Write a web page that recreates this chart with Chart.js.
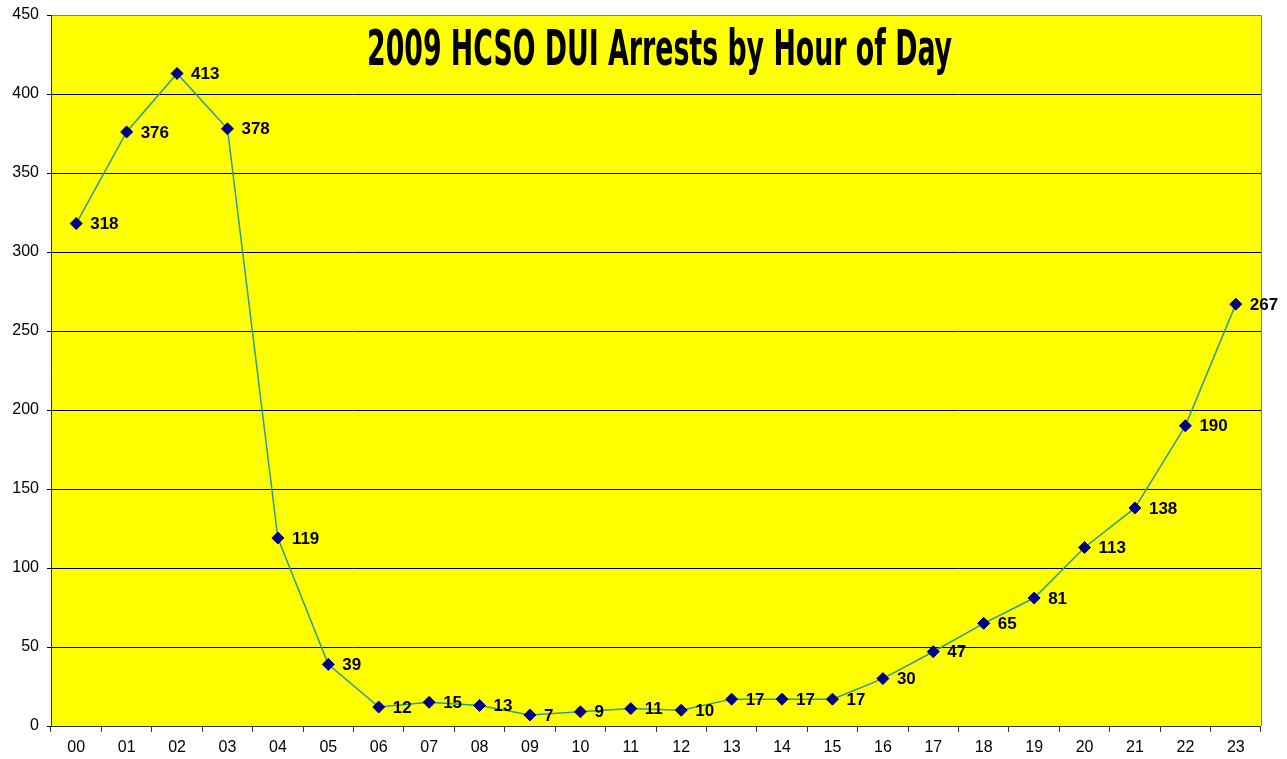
<!DOCTYPE html>
<html>
<head>
<meta charset="utf-8">
<script src="https://cdn.jsdelivr.net/npm/chart.js@4/dist/chart.umd.min.js"></script>
<style>
  html, body { margin: 0; padding: 0; background: #fff; }
  #wrap { width: 1287px; height: 759px; }
</style>
</head>
<body>
<div id="wrap"><canvas id="duiChart" width="1287" height="759"></canvas></div>
<script>
const hours = ["00","01","02","03","04","05","06","07","08","09","10","11",
               "12","13","14","15","16","17","18","19","20","21","22","23"];
const arrests = [318, 376, 413, 378, 119, 39, 12, 15, 13, 7, 9, 11,
                 10, 17, 17, 17, 30, 47, 65, 81, 113, 138, 190, 267];
const chartTitle = "2009 HCSO DUI Arrests by Hour of Day";

// yellow plot area + frame
const plotArea = {
  id: "plotArea",
  beforeDraw(chart) {
    const { ctx, chartArea: a } = chart;
    ctx.save();
    ctx.fillStyle = "#ffff00";
    ctx.fillRect(a.left, a.top, a.right - a.left, a.bottom - a.top);
    ctx.restore();
  },
  afterDatasetsDraw(chart) {
    const { ctx, chartArea: a } = chart;
    ctx.save();
    ctx.lineWidth = 1;
    ctx.strokeStyle = "#808080";
    ctx.beginPath();
    ctx.moveTo(a.left, a.top + 0.5);
    ctx.lineTo(a.right + 0.5, a.top + 0.5);
    ctx.lineTo(a.right + 0.5, a.bottom);
    ctx.stroke();
    ctx.strokeStyle = "#333333";
    ctx.beginPath();
    ctx.moveTo(a.left + 0.5, a.top);
    ctx.lineTo(a.left + 0.5, a.bottom + 0.5);
    ctx.lineTo(a.right, a.bottom + 0.5);
    ctx.stroke();

    // title inside the plot area
    ctx.fillStyle = "#000";
    ctx.font = "bold 50px 'DejaVu Sans Condensed', 'DejaVu Sans', sans-serif";
    ctx.textAlign = "left";
    ctx.textBaseline = "alphabetic";
    const w = ctx.measureText(chartTitle).width;
    const target = 585;
    ctx.translate(367, 65);
    ctx.scale(target / w, 1);
    ctx.fillText(chartTitle, 0, 0);
    ctx.restore();
  }
};

// value labels to the right of each point
const valueLabels = {
  id: "valueLabels",
  afterDatasetsDraw(chart) {
    const { ctx } = chart;
    const meta = chart.getDatasetMeta(0);
    ctx.save();
    ctx.fillStyle = "#000";
    ctx.font = "bold 17px 'Liberation Sans', Arial, sans-serif";
    ctx.textAlign = "left";
    ctx.textBaseline = "middle";
    meta.data.forEach((pt, i) => {
      ctx.fillText(String(arrests[i]), pt.x + 14, pt.y + 1);
    });
    ctx.restore();
  }
};

const ctx = document.getElementById("duiChart").getContext("2d");
const duiChart = new Chart(ctx, {
  type: "line",
  data: {
    labels: hours,
    datasets: [
      {
        label: "DUI Arrests",
        data: arrests,
        borderColor: "#2e9a90",
        borderWidth: 1.5,
        tension: 0,
        pointStyle: "rectRot",
        pointRadius: 6,
        pointBackgroundColor: "#000080",
        pointBorderColor: "#000080",
        pointBorderWidth: 1,
        fill: false,
      },
    ],
  },
  options: {
    responsive: false,
    animation: false,
    layout: { padding: { top: 15, right: 26, left: 0, bottom: 0 } },
    plugins: {
      legend: { display: false },
      title: { display: false },
      tooltip: { enabled: false },
    },
    scales: {
      x: {
        offset: true,
        grid: {
          offset: true,
          drawOnChartArea: false,
          drawTicks: true,
          tickLength: 6,
          color: "#333",
        },
        border: { display: false },
        ticks: {
          color: "#000",
          font: { family: "'Liberation Sans', Arial, sans-serif", size: 16 },
          padding: 6,
          maxRotation: 0,
          autoSkip: false,
        },
        afterFit(scale) { scale.height = 33; },
      },
      y: {
        min: 0,
        max: 450,
        grid: {
          color: "#000",
          lineWidth: 1,
          drawTicks: true,
          tickLength: 4,
        },
        border: { display: false },
        ticks: {
          stepSize: 50,
          color: "#000",
          font: { family: "'Liberation Sans', Arial, sans-serif", size: 16, lineHeight: 1 },
          padding: 8,
        },
        afterFit(scale) {
          scale.width = 51;
          scale.paddingTop = 0;
        },
      },
    },
  },
  plugins: [plotArea, valueLabels],
});
</script>
</body>
</html>
